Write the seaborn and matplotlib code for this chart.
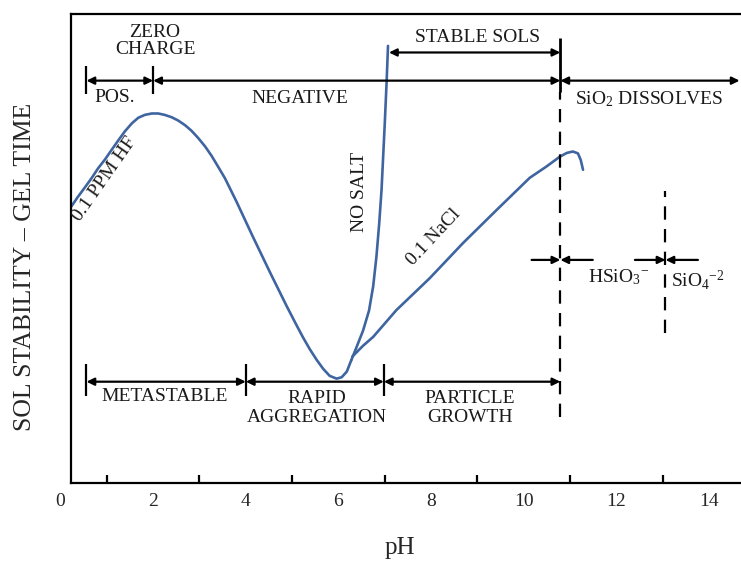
import matplotlib
matplotlib.use("Agg")
import matplotlib.pyplot as plt
import seaborn as sns

# ---------------- data (pH, relative sol stability / gel time) ----------------
hf_ph = [0.22, 0.38, 0.53, 0.67, 0.81, 0.96, 1.10, 1.25, 1.39, 1.54, 1.68, 1.82,
         1.97, 2.11, 2.25, 2.40, 2.54, 2.69, 2.83, 2.97, 3.12, 3.26, 3.40, 3.55,
         3.80, 4.15, 4.52, 4.88, 5.10, 5.24, 5.38, 5.53, 5.67, 5.81, 5.96, 6.07,
         6.18, 6.28]
hf_stab = [58.8, 61.1, 63.1, 65.0, 67.1, 69.0, 71.0, 73.1, 75.0, 76.7, 77.9, 78.5,
           78.8, 78.8, 78.5, 78.0, 77.3, 76.3, 75.1, 73.6, 71.8, 69.8, 67.5, 65.0,
           60.0, 52.6, 45.0, 37.8, 33.6, 31.0, 28.6, 26.3, 24.4, 22.9, 22.3, 22.6,
           23.8, 26.3]
nosalt_ph = [6.28, 6.39, 6.53, 6.66, 6.75, 6.82, 6.88, 6.93, 6.965, 7.00, 7.04, 7.07]
nosalt_stab = [26.3, 29.0, 32.5, 36.8, 42.0, 48.3, 55.4, 62.5, 69.6, 76.7, 85.6, 93.2]
nacl_ph = [6.30, 6.53, 6.75, 7.25, 7.97, 8.69, 9.41, 10.13, 10.49, 10.78, 10.93,
           11.06, 11.17, 11.23, 11.28]
nacl_stab = [27.0, 29.3, 31.2, 36.9, 43.7, 51.2, 58.2, 65.1, 67.5, 69.6, 70.4,
             70.7, 70.3, 68.9, 66.8]

major_ticks = [2, 4, 6, 8, 10, 12, 14]
minor_ticks = [1, 3, 5, 7, 9, 11, 13]

charge_bounds = [0.56, 2.0, 10.79]          # POS. | NEGATIVE | SiO2 DISSOLVES
stable_sols = [7.09, 10.79]
growth_bounds = [0.56, 4.0, 6.98, 10.79]    # METASTABLE | RAPID AGG. | PARTICLE GROWTH
species_bounds = [10.79, 13.06]             # HSiO3- / SiO4-2 transitions

# ---------------- style ----------------
sns.set_theme(style="white")
plt.rcParams["font.family"] = ["Liberation Serif", "DejaVu Serif"]
plt.rcParams["mathtext.fontset"] = "custom"
plt.rcParams["mathtext.rm"] = "Liberation Serif"
plt.rcParams["mathtext.it"] = "Liberation Serif:italic"

blue = "#3F65A0"
FS = 14
LW = 1.6

fig = plt.figure(figsize=(7.41, 5.63), dpi=100)
ax = fig.add_axes([70.7 / 741, (563 - 483.3) / 563, 1 - 70.7 / 741, (483.3 - 14) / 563])
ax.set_xlim(0.22, 14.69)
ax.set_ylim(0, 100)

# curves
for xs, ys in [(hf_ph, hf_stab), (nosalt_ph, nosalt_stab), (nacl_ph, nacl_stab)]:
    sns.lineplot(x=xs, y=ys, ax=ax, color=blue, lw=1.9, sort=False, estimator=None)
for ln in ax.lines:
    ln.set_solid_joinstyle("round")

# spines & ticks
ax.spines["right"].set_visible(False)
for s in ["left", "bottom", "top"]:
    ax.spines[s].set_linewidth(LW)
    ax.spines[s].set_color("black")
ax.set_yticks([])
ax.set_xticks(major_ticks)
ax.set_xticks(minor_ticks, minor=True)
ax.tick_params(axis="x", which="major", direction="in", length=10.5, width=LW,
               color="black", labelsize=14, pad=7, top=False)
ax.tick_params(axis="x", which="minor", direction="in", length=5.5, width=LW,
               color="black", top=False, bottom=True)
ax.annotate("0", xy=(0, 0), xycoords=ax.get_xaxis_transform(), xytext=(0, -7),
            textcoords="offset points", ha="center", va="top", fontsize=14,
            annotation_clip=False)

ax.set_xlabel("pH", fontsize=18)
ax.xaxis.set_label_coords(0.491, -0.138)
ax.xaxis.label.set_va("center")
ax.set_ylabel("SOL STABILITY – GEL TIME", fontsize=18.5)
ax.yaxis.set_label_coords(-0.068, 0.461)
ax.yaxis.label.set_va("center")


def arrow(x0, x1, y, style="<|-|>"):
    ax.annotate("", xy=(x1, y), xytext=(x0, y),
                arrowprops=dict(arrowstyle=style + ",head_length=0.45,head_width=0.22",
                                lw=LW, color="black", shrinkA=0, shrinkB=0,
                                mutation_scale=10),
                annotation_clip=False)


def vbar(x, y0, y1, lw=LW):
    ax.plot([x, x], [y0, y1], color="black", lw=lw, solid_capstyle="butt")


# top row: surface charge
y_top = 85.8
vbar(charge_bounds[0], 82.9, 88.9)
vbar(charge_bounds[1], 82.9, 88.9)
arrow(charge_bounds[0], charge_bounds[1], y_top)
arrow(charge_bounds[1], charge_bounds[2], y_top)
arrow(charge_bounds[2], 14.66, y_top)

# stable sols
arrow(stable_sols[0], stable_sols[1], 91.8)
vbar(stable_sols[1], 83.4, 94.9, lw=2.0)

# dashed lines
dash = (0, (6.0, 4.2))
ax.plot([species_bounds[0]] * 2, [14.1, 83.4], color="black", lw=LW, ls=dash)
ax.plot([species_bounds[1]] * 2, [32.0, 62.3], color="black", lw=LW, ls=dash)

# species arrows
y_sp = 47.6
arrow(10.17, species_bounds[0], y_sp, style="-|>")
arrow(11.49, species_bounds[0], y_sp, style="-|>")
arrow(12.40, species_bounds[1], y_sp, style="-|>")
arrow(13.76, species_bounds[1], y_sp, style="-|>")

# bottom row
y_bot = 21.65
for b in growth_bounds[:3]:
    vbar(b, 18.6, 25.4)
for a, b in zip(growth_bounds[:-1], growth_bounds[1:]):
    arrow(a, b, y_bot)

# texts
txt = dict(ha="center", va="center", fontsize=FS, color="#1a1a1a")
ax.text(2.04, 94.2, "ZERO\nCHARGE", linespacing=1.0, **txt)
ax.text(1.17, 82.3, "POS.", **txt)
ax.text(5.17, 82.1, "NEGATIVE", **txt)
ax.text(9.01, 94.9, "STABLE SOLS", **txt)
ax.text(12.72, 81.9, "SiO$_2$ DISSOLVES", **txt)
ax.text(0.96, 64.8, "0.1 PPM HF", rotation=55, **txt)
ax.text(6.46, 62.1, "NO SALT", rotation=90, **txt)
ax.text(8.06, 52.4, "0.1 NaCl", rotation=47, **txt)
ax.text(12.05, 44.0, "HSiO$_3{}^{-}$", **txt)
ax.text(13.76, 43.3, "SiO$_4{}^{-2}$", **txt)
ax.text(2.25, 18.4, "METASTABLE", **txt)
ax.text(5.53, 16.0, "RAPID\nAGGREGATION", linespacing=1.15, **txt)
ax.text(8.84, 16.0, "PARTICLE\nGROWTH", linespacing=1.15, **txt)

fig.savefig("out.png", dpi=100)
